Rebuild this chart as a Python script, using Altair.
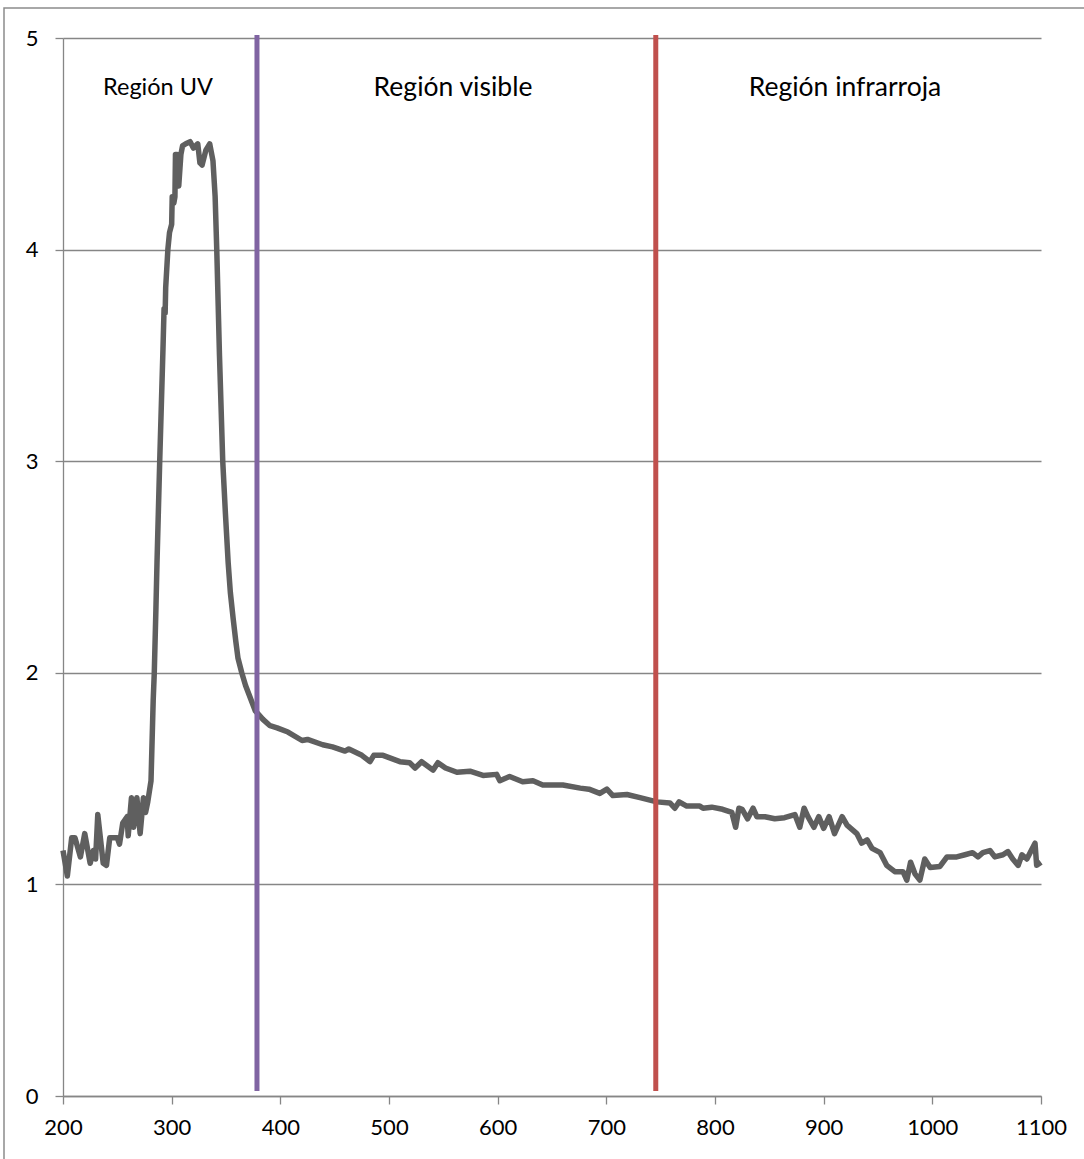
import altair as alt
import pandas as pd

# Absorbance spectrum (wavelength in nm, absorbance)
wavelength = [
    200, 204, 208, 211, 216, 220, 225, 228, 230, 232, 237, 240, 243, 250, 252,
    255, 259, 260, 263, 265, 268, 271, 274, 276, 278, 281, 283, 284, 285.5,
    286.5, 289, 292, 293, 294, 294.5, 296.5, 298, 300, 300.5, 302, 303, 303.5,
    305, 306.5, 308.5, 310, 313, 317, 320, 324, 326, 328, 331.5, 335, 338, 340,
    341.5, 344, 347, 349.5, 352, 354, 356.5, 359, 361, 364.5, 368, 371, 374,
    377, 384, 390.5, 397, 407, 420, 425, 439, 448, 459.5, 463, 475, 482.5, 486,
    494.5, 510, 519, 524, 530, 540.5, 545, 552, 562.5, 574.5, 586.5, 599, 602,
    611, 623, 632.5, 641.5, 660, 676, 684, 694, 700.5, 706, 719, 731, 746.5,
    758.5, 763, 767, 774, 786, 789, 797, 807, 815.5, 819, 822, 825, 830, 835,
    838.5, 846, 855, 864, 873.5, 878, 882, 885.5, 891, 895.5, 900, 905, 910,
    917, 921.5, 930.5, 935, 940, 944.5, 952, 958, 965.5, 973, 976.5, 980, 984,
    988.5, 993, 998, 1007, 1013.5, 1022.5, 1030, 1037, 1042, 1046.5, 1053,
    1057.5, 1065, 1069.5, 1074, 1079, 1082.5, 1087, 1094.5, 1096, 1100,
]
absorbance = [
    1.16, 1.04, 1.22, 1.22, 1.13, 1.24, 1.10, 1.16, 1.12, 1.33, 1.10, 1.09, 1.22,
    1.22, 1.19, 1.29, 1.32, 1.23, 1.41, 1.27, 1.41, 1.24, 1.41, 1.34, 1.39, 1.49,
    1.87, 2.00, 2.30, 2.52, 3.00, 3.53, 3.72, 3.70, 3.82, 4.00, 4.08, 4.12, 4.25,
    4.22, 4.25, 4.45, 4.45, 4.30, 4.45, 4.49, 4.50, 4.51, 4.48, 4.50, 4.41, 4.40,
    4.47, 4.50, 4.42, 4.25, 4.00, 3.50, 3.00, 2.75, 2.52, 2.38, 2.26, 2.15, 2.07,
    2.00, 1.94, 1.90, 1.86, 1.82, 1.78, 1.75, 1.74, 1.72, 1.68, 1.685, 1.66, 1.65,
    1.63, 1.64, 1.61, 1.58, 1.61, 1.61, 1.58, 1.575, 1.55, 1.58, 1.54, 1.575,
    1.55, 1.53, 1.535, 1.515, 1.52, 1.49, 1.51, 1.485, 1.49, 1.47, 1.47, 1.455,
    1.45, 1.43, 1.45, 1.42, 1.425, 1.41, 1.39, 1.385, 1.36, 1.39, 1.37, 1.37,
    1.36, 1.365, 1.355, 1.34, 1.27, 1.36, 1.355, 1.31, 1.36, 1.32, 1.32, 1.31,
    1.315, 1.33, 1.27, 1.36, 1.32, 1.27, 1.32, 1.265, 1.32, 1.24, 1.32, 1.28,
    1.24, 1.195, 1.21, 1.17, 1.15, 1.09, 1.06, 1.06, 1.02, 1.105, 1.05, 1.02,
    1.12, 1.08, 1.085, 1.13, 1.13, 1.14, 1.15, 1.13, 1.15, 1.16, 1.13, 1.14,
    1.155, 1.12, 1.09, 1.14, 1.12, 1.195, 1.09, 1.105,
]

# Region boundaries (nm) and their colours
boundary_x = [378.5, 745.5]
boundary_color = ["#8064A2", "#C0504D"]

# Region labels
region_names = ["Región UV", "Región visible", "Región infrarroja"]
region_x = [287.4, 558.9, 919.6]
region_size = [23.5, 26.5, 26.5]

x_ticks = list(range(200, 1101, 100))
y_ticks = [0, 1, 2, 3, 4, 5]

FONT = "Lato"
GRID = "#868686"

spectrum = pd.DataFrame({"nm": wavelength, "abs": absorbance})
bounds = pd.DataFrame({"nm": boundary_x, "color": boundary_color,
                       "y0": [0.024] * 2, "y1": [5.014] * 2})
labels = pd.DataFrame({"nm": region_x, "name": region_names,
                       "size": region_size, "y": [4.764] * 3})

x_scale = alt.Scale(domain=[200, 1100], nice=False, zero=False)
y_scale = alt.Scale(domain=[0, 5], nice=False)

# Outer frame around the whole chart
frame = alt.Chart(pd.DataFrame({"a": [0]})).mark_rect(
    fillOpacity=0, stroke="#8c8c8c", strokeWidth=1.5
).encode(
    x=alt.value(-59), x2=alt.value(1200), y=alt.value(-30), y2=alt.value(1300)
)

line = alt.Chart(spectrum).mark_line(
    color="#5f5f5f", strokeWidth=5.5, strokeJoin="round", clip=False
).encode(
    x=alt.X("nm:Q", scale=x_scale,
            axis=alt.Axis(values=x_ticks, title=None, grid=False, tickSize=8,
                          labelPadding=13, format="d", labelFlush=False,
                          labelOverlap=False, domainColor=GRID, tickColor=GRID,
                          domainWidth=1.3, tickWidth=1.3)),
    y=alt.Y("abs:Q", scale=y_scale,
            axis=alt.Axis(values=y_ticks, title=None, grid=True, gridColor=GRID,
                          gridWidth=1.3, tickSize=8, labelPadding=17,
                          format="d", labelFlush=False, labelOverlap=False,
                          domainColor=GRID, tickColor=GRID,
                          domainWidth=1.3, tickWidth=1.3)),
)

rules = alt.Chart(bounds).mark_rule(strokeWidth=5).encode(
    x=alt.X("nm:Q", scale=x_scale),
    y=alt.Y("y0:Q", scale=y_scale),
    y2="y1:Q",
    color=alt.Color("color:N", scale=None),
)

texts = alt.Chart(labels).mark_text(font=FONT, color="black", align="center",
                                    baseline="middle").encode(
    x=alt.X("nm:Q", scale=x_scale),
    y=alt.Y("y:Q", scale=y_scale),
    text="name:N",
    size=alt.Size("size:Q", scale=None),
)

chart = alt.layer(frame, line, rules, texts).properties(
    width=978, height=1058,
    autosize=alt.AutoSizeParams(type="none"),
    padding={"left": 63, "top": 38, "right": 43, "bottom": 63},
).configure_view(stroke=None).configure_axis(
    labelFont=FONT, labelFontSize=22, labelColor="black"
)

chart.save("out.html", embed_options={"renderer": "svg", "actions": False})
